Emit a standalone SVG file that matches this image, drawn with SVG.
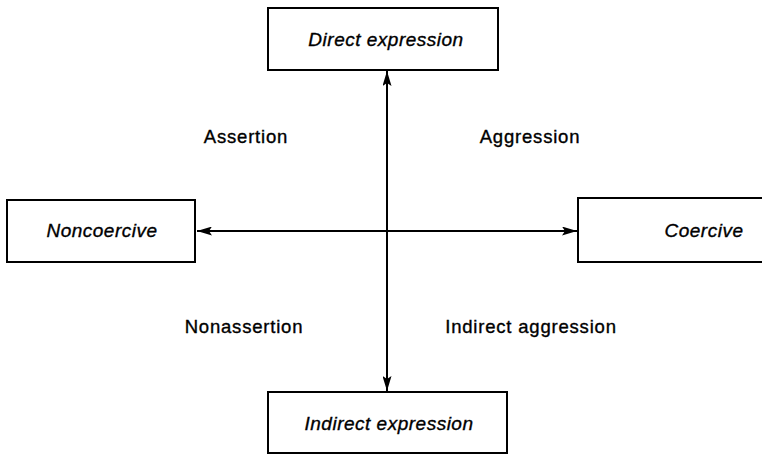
<svg xmlns="http://www.w3.org/2000/svg" width="762" height="456" viewBox="0 0 762 456">
<style>
.box{fill:#fff;stroke:#000;stroke-width:2}
.nt{font-family:"Liberation Sans",Arial,sans-serif;font-style:italic;font-size:19px;letter-spacing:0.5px;text-anchor:middle;fill:#000;stroke:#000;stroke-width:0.35}
.lb{font-family:"Liberation Sans",Arial,sans-serif;font-size:18.5px;letter-spacing:0.8px;text-anchor:middle;fill:#000;stroke:#000;stroke-width:0.35}
.ln{stroke:#000;stroke-width:2;fill:none}
</style>
<defs>
<marker id="ah" viewBox="0 0 15 9" refX="15" refY="4.5" markerWidth="15" markerHeight="9" markerUnits="userSpaceOnUse" orient="auto-start-reverse">
<path d="M0,0 L15,4.5 L0,9 L3,4.5 Z" fill="#000"/>
</marker>
</defs>
<g id="connectors">
<line class="ln" x1="387" y1="71" x2="387" y2="391" marker-start="url(#ah)" marker-end="url(#ah)"/>
<line class="ln" x1="197" y1="231" x2="577" y2="231" marker-start="url(#ah)" marker-end="url(#ah)"/>
</g>
<g id="direct">
<rect class="box" x="268" y="8" width="230" height="62"/>
<text class="nt" x="386" y="46">Direct expression</text>
</g>
<g id="noncoercive">
<rect class="box" x="7" y="200" width="188" height="62"/>
<text class="nt" x="102" y="237">Noncoercive</text>
</g>
<g id="coercive">
<rect class="box" x="578" y="198" width="200" height="64"/>
<text class="nt" x="704" y="237">Coercive</text>
</g>
<g id="indirect">
<rect class="box" x="268" y="392" width="239" height="61"/>
<text class="nt" x="389" y="430">Indirect expression</text>
</g>
<g id="labels">
<text class="lb" x="246" y="143">Assertion</text>
<text class="lb" x="530" y="143">Aggression</text>
<text class="lb" x="244" y="333">Nonassertion</text>
<text class="lb" x="531" y="333">Indirect aggression</text>
</g>
</svg>
